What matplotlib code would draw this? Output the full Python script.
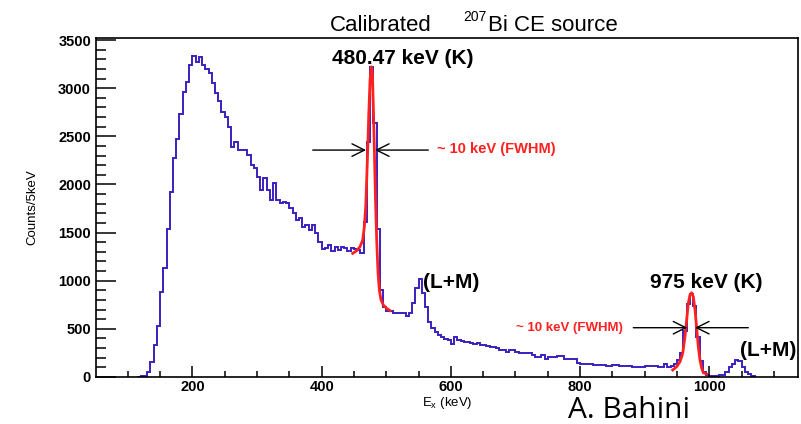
import numpy as np
import matplotlib
matplotlib.use("Agg")
import matplotlib.pyplot as plt
from matplotlib.ticker import MultipleLocator

plt.rcParams['font.family'] = ['Liberation Sans', 'DejaVu Sans']

# histogram: 5 keV bins starting at 115 keV
bin_start = 115
bin_width = 5
counts = [
    3, 8, 12, 55, 160, 330, 525, 880, 1135, 1540,            # 115-160
    1920, 2270, 2470, 2730, 2960, 3065, 3240, 3335, 3267, 3322,  # 165-210
    3240, 3198, 3160, 3056, 2946, 2868, 2755, 2697, 2600, 2392,  # 215-260
    2444, 2357, 2357, 2357, 2305, 2201, 2174, 2080, 1942, 2063,  # 265-310
    1940, 1838, 2011, 1838, 1804, 1821, 1804, 1752, 1706, 1630,  # 315-360
    1648, 1554, 1578, 1526, 1578, 1499, 1405, 1330, 1335, 1370,  # 365-410
    1310, 1350, 1320, 1355, 1335, 1310, 1340, 1325, 1320, 1290,  # 415-460
    1612, 2440, 3220, 2640, 1542, 903, 730, 690, 685, 668,       # 465-510
    668, 668, 668, 635, 668, 765, 925, 1018, 875, 730,           # 515-560
    575, 505, 470, 440, 415, 395, 385, 338, 412, 385,            # 565-610
    375, 367, 367, 357, 343, 357, 332, 332, 322, 308,            # 615-660
    308, 298, 281, 281, 263, 281, 281, 263, 253, 253,            # 665-710
    246, 246, 228, 211, 211, 228, 187, 211, 211, 208,            # 715-760
    215, 215, 190, 190, 190, 190, 149, 138, 138, 138,            # 765-810
    138, 128, 128, 128, 128, 114, 114, 121, 121, 114,            # 815-860
    114, 114, 114, 104, 104, 104, 104, 114, 114, 114,            # 865-910
    114, 104, 104, 138, 104, 114, 140, 180, 250, 480,            # 915-960
    760, 860, 740, 420, 170, 50, 20, 10, 12, 15,                 # 965-1010
    20, 25, 50, 100, 140, 175, 170, 100, 55, 30,                 # 1015-1060
    15,                                                          # 1065
]
edges = bin_start + bin_width * np.arange(len(counts) + 1)

# gaussian fit curves
fit480_e = [448, 454.2, 459.4, 463.5, 466.1, 468.2, 469.7, 471.3, 472.8, 474.9, 476.9,
            478.5, 480, 481.6, 483.1, 485.2, 487.3, 489.3, 491.9, 495.5, 500.7, 505.8]
fit480_c = [1284, 1311, 1353, 1422, 1561, 1768, 2045, 2357, 2703, 3084, 3222,
            3153, 2807, 2357, 1907, 1422, 1077, 903, 800, 747, 713, 689]
fit975_e = [943.3, 949.4, 954.6, 958.8, 962.3, 964.9, 967.4, 970, 972.6, 975.2,
            977.8, 980.4, 982.9, 985.5, 988.2, 990.6, 995.9]
fit975_c = [73, 107, 159, 246, 419, 592, 765, 852, 875, 834,
            696, 506, 315, 177, 90, 45, 31]

W, H = 801, 424


def fx(px):
    return px / W


def fy(py):
    return 1 - py / H


fig = plt.figure(figsize=(W / 100, H / 100), dpi=100)
ax = fig.add_axes([fx(96), fy(377), (798 - 96) / W, (377 - 38) / H])

blue = '#3b1fbf'
red = '#ff2020'
ax.stairs(counts, edges, color=blue, lw=1.4)
ax.plot(fit480_e, fit480_c, color=red, lw=2)
ax.plot(fit975_e, fit975_c, color=red, lw=2)

ax.set_xlim(50.8, 1137.2)
ax.set_ylim(0, 3521)
ax.xaxis.set_major_locator(MultipleLocator(200))
ax.xaxis.set_minor_locator(MultipleLocator(50))
ax.yaxis.set_major_locator(MultipleLocator(500))
ax.yaxis.set_minor_locator(MultipleLocator(100))
ax.tick_params(which='both', direction='in', top=False, right=False, width=1.1,
               labelsize=10.5)
ax.tick_params(axis='y', which='major', length=14.4, pad=3.6)
ax.tick_params(axis='y', which='minor', length=7.2)
ax.tick_params(axis='x', which='major', length=8, pad=2.5)
ax.tick_params(axis='x', which='minor', length=4.3)
for lab in ax.get_xticklabels() + ax.get_yticklabels():
    lab.set_fontweight('bold')
for s in ax.spines.values():
    s.set_linewidth(1.2)

# arrows marking the width
arr = dict(arrowstyle='->,head_length=0.9,head_width=0.45', color='black', lw=1,
           shrinkA=0, shrinkB=0)
ax.annotate('', xy=(468.7, 2357), xytext=(386.2, 2357), arrowprops=arr)
ax.annotate('', xy=(482.6, 2357), xytext=(565.1, 2357), arrowprops=arr)
ax.annotate('', xy=(965.9, 512), xytext=(882.3, 512), arrowprops=arr)
ax.annotate('', xy=(977.8, 512), xytext=(1060.3, 512), arrowprops=arr)

ax.text(416, 3255, '480.47 keV (K)', fontsize=15, fontweight='bold', va='baseline')
ax.text(556.9, 924, '(L+M)', fontsize=15, fontweight='bold', va='baseline')
ax.text(908.1, 924, '975 keV (K)', fontsize=15, fontweight='bold', va='baseline')
ax.text(1047.4, 218, '(L+M)', fontsize=15, fontweight='bold', va='baseline')
ax.text(578.6, 2326, '~ 10 keV (FWHM)', fontsize=10.5, fontweight='bold',
        color=red, va='baseline')
ax.text(700.8, 478, '~ 10 keV (FWHM)', fontsize=9.5, fontweight='bold',
        color=red, va='baseline')

# title
fig.text(fx(330), fy(31), 'Calibrated', fontsize=16, va='baseline')
fig.text(fx(463), fy(21), '207', fontsize=10, va='baseline')
fig.text(fx(488), fy(31), 'Bi CE source', fontsize=16, va='baseline')

fig.text(fx(447), fy(406), r'E$_\mathregular{x}$ (keV)', fontsize=9.5,
         ha='center', va='baseline')
fig.text(fx(32), fy(207), 'Counts/5keV', fontsize=9.5, rotation=90,
         ha='center', va='center')

fig.text(fx(568), fy(418), 'A. Bahini', fontsize=21.5, family='Open Sans',
         va='baseline')

fig.savefig('out.png', dpi=100)
